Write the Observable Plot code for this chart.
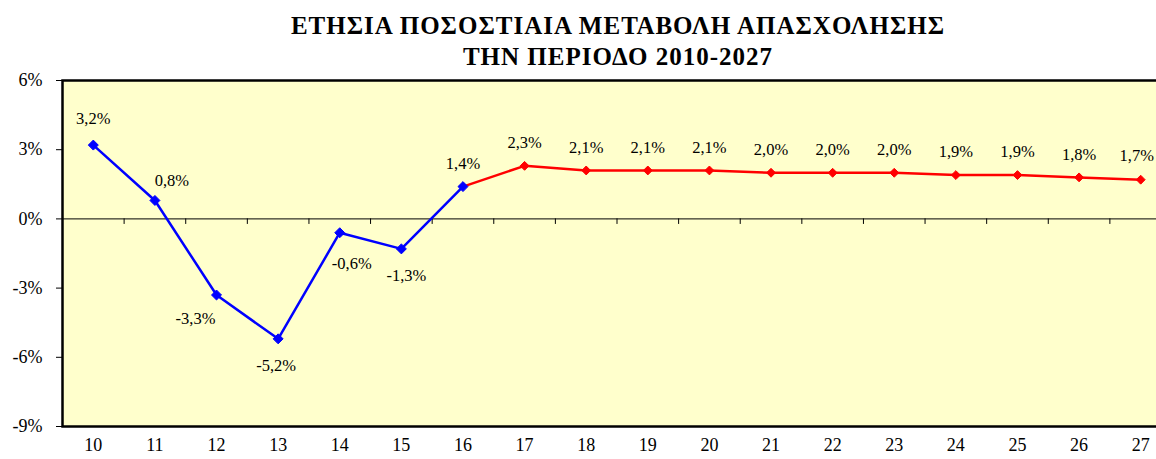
<!DOCTYPE html>
<html>
<head>
<meta charset="utf-8">
<script src="https://cdn.jsdelivr.net/npm/d3@7"></script>
<script src="https://cdn.jsdelivr.net/npm/@observablehq/plot@0.6"></script>
<style>
  html, body { margin: 0; padding: 0; background: #fff; overflow: hidden; }
  #wrap { position: relative; width: 1156px; height: 459px; overflow: hidden; }
  #title {
    position: absolute; left: 80px; right: 0; top: 10px;
    text-align: center; font-family: "Liberation Serif", "Times New Roman", serif;
    font-weight: bold; font-size: 25px; line-height: 31px; letter-spacing: 1px; color: #000;
  }
  #chart { position: absolute; left: 0; top: 0; }
  #chart svg { max-width: none !important; }
</style>
</head>
<body>
<div id="wrap">
  <div id="chart"></div>
  <div id="title">ΕΤΗΣΙΑ ΠΟΣΟΣΤΙΑΙΑ ΜΕΤΑΒΟΛΗ ΑΠΑΣΧΟΛΗΣΗΣ<br>ΤΗΝ ΠΕΡΙΟΔΟ 2010-2027</div>
</div>
<script>
const years = [10, 11, 12, 13, 14, 15, 16, 17, 18, 19, 20, 21, 22, 23, 24, 25, 26, 27];
const blueYears = [10, 11, 12, 13, 14, 15, 16];
const blueValues = [3.2, 0.8, -3.3, -5.2, -0.6, -1.3, 1.4];
const redYears = [16, 17, 18, 19, 20, 21, 22, 23, 24, 25, 26, 27];
const redValues = [1.4, 2.3, 2.1, 2.1, 2.1, 2.0, 2.0, 2.0, 1.9, 1.9, 1.8, 1.7];
const yTicks = [-9, -6, -3, 0, 3, 6];

const blue = blueYears.map((x, i) => ({x, y: blueValues[i]}));
const red = redYears.map((x, i) => ({x, y: redValues[i]}));
const fmt = v => d3.format(".1f")(v).replace("−", "-").replace(".", ",") + "%";

// label groups (styling by position in the series)
const lblTop = blue.filter(d => d.x === 10);
const lbl11 = blue.filter(d => d.x === 11);
const lbl12 = blue.filter(d => d.x === 12);
const lbl13 = blue.filter(d => d.x === 13);
const lbl14 = blue.filter(d => d.x === 14);
const lbl15 = blue.filter(d => d.x === 15);
const lbl16 = blue.filter(d => d.x === 16);
const lastYear = redYears[redYears.length - 1];
const lblRed = red.filter(d => d.x > 16 && d.x < lastYear);
const lblLast = red.filter(d => d.x === lastYear);

const boundaries = years.slice(1).map(y => y - 0.5);

const textOpts = {x: "x", y: "y", text: d => fmt(d.y), fill: "#000", fontSize: 16.5};

const chart = Plot.plot({
  width: 1175,
  height: 459,
  marginLeft: 62,
  marginRight: 4,
  marginTop: 80,
  marginBottom: 33,
  style: {fontFamily: "'Liberation Serif', 'Times New Roman', serif", fontSize: "18px", color: "#000", background: "transparent"},
  x: {type: "linear", domain: [9.5, 27.5], label: null},
  y: {domain: [-9, 6], label: null},
  marks: [
    Plot.frame({fill: "#FFFFCC", stroke: "none"}),
    Plot.ruleY([0], {stroke: "#000", strokeWidth: 1}),
    Plot.ruleX(boundaries, {x: d => d, y1: 0, y2: -0.24, stroke: "#000", strokeWidth: 1}),
    Plot.line(blue, {x: "x", y: "y", stroke: "#0000FF", strokeWidth: 2.5}),
    Plot.line(red, {x: "x", y: "y", stroke: "#FF0000", strokeWidth: 2.5}),
    Plot.dot(blue, {x: "x", y: "y", symbol: "diamond2", r: 4.5, fill: "#0000FF", stroke: "#0000FF", strokeWidth: 1}),
    Plot.dot(red.filter(d => d.x > 16), {x: "x", y: "y", symbol: "diamond2", r: 4, fill: "#FF0000", stroke: "#FF0000", strokeWidth: 1}),
    Plot.text(lblTop, {...textOpts, dy: -26}),
    Plot.text(lbl11, {...textOpts, dx: 17, dy: -20}),
    Plot.text(lbl12, {...textOpts, dx: -21, dy: 24}),
    Plot.text(lbl13, {...textOpts, dx: -2, dy: 27}),
    Plot.text(lbl14, {...textOpts, dx: 12, dy: 31}),
    Plot.text(lbl15, {...textOpts, dx: 5, dy: 27}),
    Plot.text(lbl16, {...textOpts, dy: -23}),
    Plot.text(lblRed, {...textOpts, dy: -23}),
    Plot.text(lblLast, {...textOpts, dx: -4, dy: -24}),
    Plot.frame({stroke: "#000", strokeWidth: 2.5}),
    Plot.axisY(yTicks, {tickSize: 6, tickPadding: 14, tickFormat: d => d + "%", fontSize: 18, label: null}),
    Plot.axisX(years, {tickSize: 0, tickPadding: 12, tickFormat: d => String(d), fontSize: 18, label: null})
  ]
});
document.getElementById("chart").appendChild(chart);
</script>
</body>
</html>
